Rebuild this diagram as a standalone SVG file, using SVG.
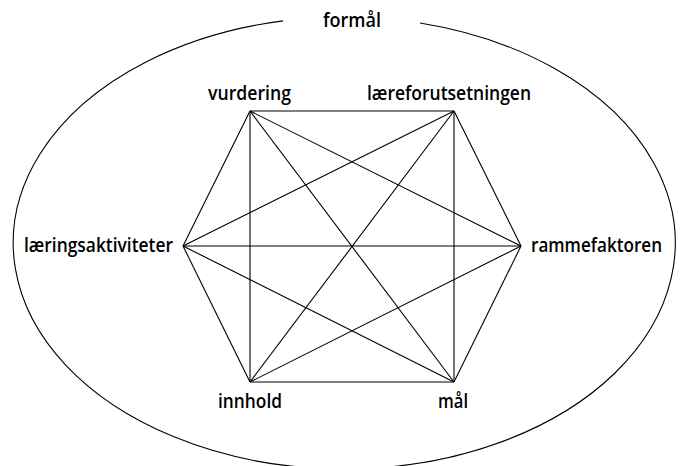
<svg xmlns="http://www.w3.org/2000/svg" width="681" height="466" viewBox="0 0 681 466">
<style>
.lbl{font-family:"Open Sans","Liberation Sans",sans-serif;font-size:20px;font-weight:600;fill:#000}
.e{stroke:#000;stroke-width:1.1;fill:none}
</style>
<rect width="681" height="466" fill="#fff"/>
<g id="formal">
<path class="e" d="M283 20.9 A331 226 0 1 0 420 23"/>
<text class="lbl" x="323" y="27" textLength="58" lengthAdjust="spacingAndGlyphs">formål</text>
</g>
<g id="connectors">
<line class="e" x1="250" y1="111" x2="454" y2="111"/>
<line class="e" x1="250" y1="111" x2="521" y2="246"/>
<line class="e" x1="250" y1="111" x2="454" y2="382"/>
<line class="e" x1="250" y1="111" x2="250" y2="382"/>
<line class="e" x1="250" y1="111" x2="183" y2="246"/>
<line class="e" x1="454" y1="111" x2="521" y2="246"/>
<line class="e" x1="454" y1="111" x2="454" y2="382"/>
<line class="e" x1="454" y1="111" x2="250" y2="382"/>
<line class="e" x1="454" y1="111" x2="183" y2="246"/>
<line class="e" x1="521" y1="246" x2="454" y2="382"/>
<line class="e" x1="521" y1="246" x2="250" y2="382"/>
<line class="e" x1="521" y1="246" x2="183" y2="246"/>
<line class="e" x1="454" y1="382" x2="250" y2="382"/>
<line class="e" x1="454" y1="382" x2="183" y2="246"/>
<line class="e" x1="250" y1="382" x2="183" y2="246"/>
</g>
<g id="vurdering"><text class="lbl" x="208" y="100" textLength="83" lengthAdjust="spacingAndGlyphs">vurdering</text></g>
<g id="laereforutsetningen"><text class="lbl" x="367" y="100" textLength="164" lengthAdjust="spacingAndGlyphs">læreforutsetningen</text></g>
<g id="laeringsaktiviteter"><text class="lbl" x="24" y="252" textLength="149" lengthAdjust="spacingAndGlyphs">læringsaktiviteter</text></g>
<g id="rammefaktoren"><text class="lbl" x="531" y="252" textLength="131" lengthAdjust="spacingAndGlyphs">rammefaktoren</text></g>
<g id="innhold"><text class="lbl" x="218" y="408" textLength="64" lengthAdjust="spacingAndGlyphs">innhold</text></g>
<g id="mal"><text class="lbl" x="438" y="408" textLength="30" lengthAdjust="spacingAndGlyphs">mål</text></g>
</svg>
